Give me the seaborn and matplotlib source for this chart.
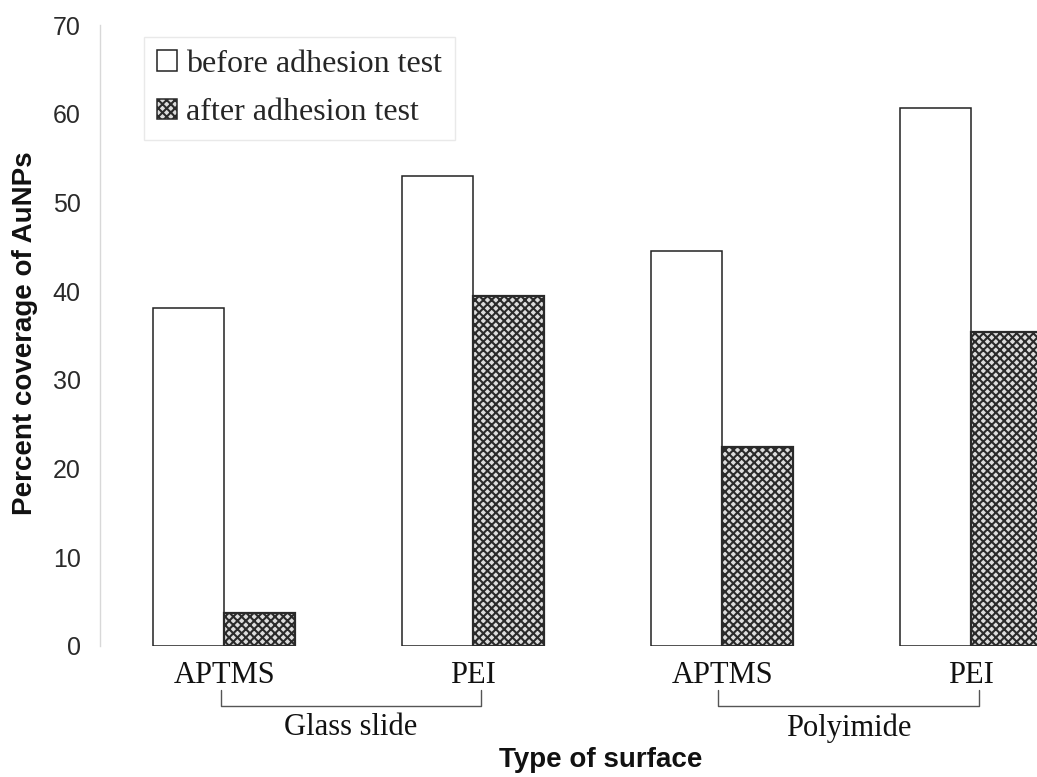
import numpy as np
import pandas as pd
import matplotlib
matplotlib.use("Agg")
import matplotlib.pyplot as plt
import matplotlib.transforms as mtransforms
from matplotlib.patches import Patch
import seaborn as sns

# values
surfaces = ["Glass slide", "Glass slide", "Polyimide", "Polyimide"]
coatings = ["APTMS", "PEI", "APTMS", "PEI"]
before_test = [38.1, 53.0, 44.5, 60.6]
after_test = [3.7, 39.5, 22.4, 35.4]
y_ticks = [0, 10, 20, 30, 40, 50, 60, 70]
series_names = ["before adhesion test", "after adhesion test"]

keys = [s + " " + c for s, c in zip(surfaces, coatings)]
df = pd.DataFrame({
    "sample": keys * 2,
    "coverage": before_test + after_test,
    "test": [series_names[0]] * len(keys) + [series_names[1]] * len(keys),
})

sns.set_style("white")
plt.rcParams["hatch.color"] = "#2a2a2a"
plt.rcParams["hatch.linewidth"] = 1.5
serif = "Liberation Serif"
sans = "Liberation Sans"

fig = plt.figure(figsize=(10.37, 7.77), dpi=100)
ax = fig.add_axes([0.0964, 0.1686, 0.9036, 0.7992])

sns.barplot(data=df, x="sample", y="coverage", hue="test", order=keys,
            hue_order=series_names, palette=["white", "white"], width=0.57,
            gap=0, errorbar=None, legend=False, ax=ax)

# plain bars for "before", cross-hatched for "after"
for bar in ax.containers[0]:
    bar.set_facecolor("white")
    bar.set_edgecolor("#222222")
    bar.set_linewidth(1.1)
for bar in ax.containers[1]:
    bar.set_facecolor("#dcdcdc")
    bar.set_edgecolor("#2a2a2a")
    bar.set_hatch("xxxx")
    bar.set_linewidth(1.6)

ax.set_xlim(-0.5, 3.265)
ax.set_ylim(0, 70)
ax.set_yticks(y_ticks)
ax.set_yticklabels([str(t) for t in y_ticks], fontfamily=sans, fontsize=18, color="#2a2a2a")
ax.set_xticks(range(len(keys)))
ax.set_xticklabels(coatings, fontfamily=serif, fontsize=22, color="#111111")
ax.tick_params(axis="y", length=0, pad=14)
ax.tick_params(axis="x", length=0, pad=11)
ax.set_xlabel("")
ax.set_ylabel("")

for side in ["top", "right", "bottom"]:
    ax.spines[side].set_visible(False)
ax.spines["left"].set_color("#d8d8d8")
ax.spines["left"].set_linewidth(1.0)

# group brackets under the tick labels
trans = mtransforms.blended_transform_factory(ax.transData, ax.transAxes)
for name in ["Glass slide", "Polyimide"]:
    idx = [i for i, s in enumerate(surfaces) if s == name]
    x0, x1 = idx[0] - 0.015, idx[-1] + 0.03
    ax.plot([x0, x0, x1, x1], [-0.071, -0.097, -0.097, -0.071], transform=trans,
            clip_on=False, color="#555555", lw=1.0)
    ax.text((x0 + x1) / 2, -0.132, name, transform=trans, ha="center", va="center",
            fontfamily=serif, fontsize=22, color="#111111")

fig.text(0.579, 0.022, "Type of surface", ha="center", va="center",
         fontfamily=sans, fontsize=20, fontweight="bold", color="#111111")
fig.text(0.024, 0.571, "Percent coverage of AuNPs", ha="center", va="center",
         rotation=90, fontfamily=sans, fontsize=20, fontweight="bold", color="#111111")

handles = [Patch(facecolor="white", edgecolor="#222222", lw=1.1),
           Patch(facecolor="#dcdcdc", edgecolor="#2a2a2a", hatch="xxxx", lw=1.1)]
leg = ax.legend(handles, series_names, loc="upper left", bbox_to_anchor=(0.03, 1.006),
                prop={"family": serif, "size": 23}, frameon=True, fancybox=False,
                handlelength=0.62, handleheight=0.62, handletextpad=0.3,
                labelspacing=0.6, borderpad=0.4)
leg.get_frame().set_edgecolor("#e4e4e4")
leg.get_frame().set_linewidth(1.0)

fig.savefig("out.png", dpi=100)
